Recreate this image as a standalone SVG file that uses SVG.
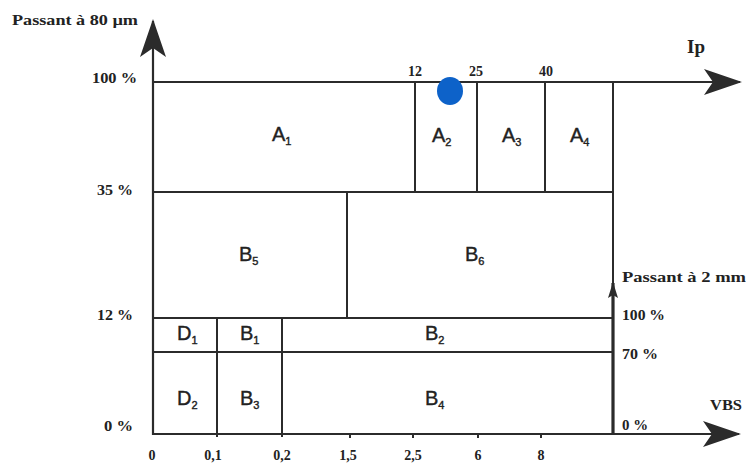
<svg xmlns="http://www.w3.org/2000/svg" width="746" height="463" viewBox="0 0 746 463">
<style>
.ln{stroke:#2b2b2b;stroke-width:2;fill:none}
.ax{stroke:#2b2b2b;stroke-width:2.2;fill:none}
.lb{font-family:"Liberation Serif",serif;font-weight:bold;font-size:14px;fill:#222}
.big{font-family:"Liberation Sans",Arial,sans-serif;font-size:20px;fill:#222;stroke:#222;stroke-width:0.4}
.sub{font-size:11px}
</style>
<defs>
<marker id="ah" viewBox="0 0 38 26" refX="36" refY="13" markerWidth="38" markerHeight="26" markerUnits="userSpaceOnUse" orient="auto">
<path d="M0,0 L38,13 L0,26 L9,13 Z" fill="#2b2b2b"/>
</marker>
<marker id="ahs" viewBox="0 0 16 10" refX="15" refY="5" markerWidth="16" markerHeight="10" markerUnits="userSpaceOnUse" orient="auto">
<path d="M0,0 L16,5 L0,10 L3,5 Z" fill="#2b2b2b"/>
</marker>
</defs>
<g id="connectors">
<line class="ax" x1="153" y1="435" x2="153" y2="21" marker-end="url(#ah)"/>
<line class="ax" x1="153" y1="82" x2="740" y2="82" marker-end="url(#ah)"/>
<line class="ax" x1="153" y1="434" x2="739" y2="434" marker-end="url(#ah)"/>
<line class="ln" x1="415" y1="82" x2="415" y2="192"/>
<line class="ln" x1="477" y1="82" x2="477" y2="192"/>
<line class="ln" x1="545" y1="82" x2="545" y2="192"/>
<line class="ln" x1="613" y1="82" x2="613" y2="434"/>
<line class="ln" x1="153" y1="192" x2="613" y2="192"/>
<line class="ln" x1="347" y1="192" x2="347" y2="318"/>
<line class="ln" x1="153" y1="318" x2="613" y2="318"/>
<line class="ln" x1="153" y1="352" x2="613" y2="352"/>
<line class="ln" x1="217" y1="318" x2="217" y2="437"/>
<line class="ln" x1="282" y1="318" x2="282" y2="437"/>
<line class="ln" x1="350" y1="434" x2="350" y2="438"/>
<line class="ln" x1="413" y1="434" x2="413" y2="438"/>
<line class="ln" x1="478" y1="434" x2="478" y2="438"/>
<line class="ln" x1="541" y1="434" x2="541" y2="438"/>
<line x1="613" y1="434" x2="613" y2="283" stroke="#2b2b2b" stroke-width="3.2" marker-end="url(#ahs)"/>
</g>
<g id="point"><ellipse cx="450" cy="91" rx="13" ry="14" fill="#0d62c9"/></g>
<g id="axis-labels">
<text class="lb" x="12" y="25" textLength="126" lengthAdjust="spacingAndGlyphs">Passant à 80 µm</text>
<text x="687" y="53" font-family="Liberation Serif,serif" font-weight="bold" font-size="19" fill="#222">Ip</text>
<text class="lb" x="622" y="282" textLength="124" lengthAdjust="spacingAndGlyphs">Passant à 2 mm</text>
<text class="lb" x="710" y="410" textLength="32" lengthAdjust="spacingAndGlyphs">VBS</text>
<text class="lb" x="92" y="83" textLength="45" lengthAdjust="spacingAndGlyphs">100 %</text>
<text class="lb" x="97" y="195" textLength="36" lengthAdjust="spacingAndGlyphs">35 %</text>
<text class="lb" x="97" y="320" textLength="36" lengthAdjust="spacingAndGlyphs">12 %</text>
<text class="lb" x="104" y="431" textLength="29" lengthAdjust="spacingAndGlyphs">0 %</text>
<text class="lb" x="622" y="320" textLength="43" lengthAdjust="spacingAndGlyphs">100 %</text>
<text class="lb" x="622" y="359" textLength="36" lengthAdjust="spacingAndGlyphs">70 %</text>
<text class="lb" x="622" y="430" textLength="26" lengthAdjust="spacingAndGlyphs">0 %</text>
<text class="lb" x="415" y="76" text-anchor="middle">12</text>
<text class="lb" x="476" y="76" text-anchor="middle">25</text>
<text class="lb" x="546" y="76" text-anchor="middle">40</text>
<text class="lb" x="152" y="460" text-anchor="middle">0</text>
<text class="lb" x="213" y="460" text-anchor="middle">0,1</text>
<text class="lb" x="282" y="460" text-anchor="middle">0,2</text>
<text class="lb" x="348" y="460" text-anchor="middle">1,5</text>
<text class="lb" x="413" y="460" text-anchor="middle">2,5</text>
<text class="lb" x="478" y="460" text-anchor="middle">6</text>
<text class="lb" x="541" y="460" text-anchor="middle">8</text>
</g>
<g id="A1"><text class="big" x="272" y="141">A<tspan class="sub" dy="4">1</tspan></text></g>
<g id="A2"><text class="big" x="432" y="142">A<tspan class="sub" dy="4">2</tspan></text></g>
<g id="A3"><text class="big" x="502" y="142">A<tspan class="sub" dy="4">3</tspan></text></g>
<g id="A4"><text class="big" x="570" y="142">A<tspan class="sub" dy="4">4</tspan></text></g>
<g id="B5"><text class="big" x="239" y="261">B<tspan class="sub" dy="4">5</tspan></text></g>
<g id="B6"><text class="big" x="465" y="261">B<tspan class="sub" dy="4">6</tspan></text></g>
<g id="D1"><text class="big" x="177" y="340">D<tspan class="sub" dy="4">1</tspan></text></g>
<g id="B1"><text class="big" x="240" y="340">B<tspan class="sub" dy="4">1</tspan></text></g>
<g id="B2"><text class="big" x="425" y="340">B<tspan class="sub" dy="4">2</tspan></text></g>
<g id="D2"><text class="big" x="177" y="405">D<tspan class="sub" dy="4">2</tspan></text></g>
<g id="B3"><text class="big" x="240" y="405">B<tspan class="sub" dy="4">3</tspan></text></g>
<g id="B4"><text class="big" x="425" y="405">B<tspan class="sub" dy="4">4</tspan></text></g>
</svg>
